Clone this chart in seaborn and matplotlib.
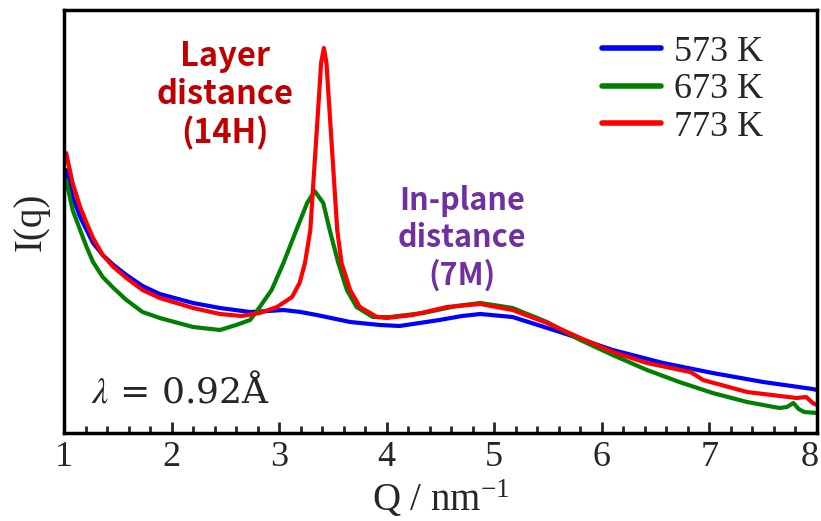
import numpy as np
import pandas as pd
import matplotlib
matplotlib.use("Agg")
import matplotlib.pyplot as plt
import matplotlib.transforms as mtransforms
import seaborn as sns

# ---- data (arbitrary intensity units) ----
q_573 = [1.02, 1.08, 1.15, 1.27, 1.36, 1.46, 1.58, 1.73, 1.89, 2.20, 2.45, 2.73,
         2.90, 3.04, 3.20, 3.35, 3.66, 3.94, 4.12, 4.49, 4.70, 4.87, 5.17, 5.64,
         6.10, 6.57, 7.03, 7.50, 7.96, 8.0]
i_573 = [263, 236, 216, 190, 178, 168, 158, 147, 139, 130, 125, 121,
         122, 123, 121, 118, 111, 108, 107, 113, 117, 119, 116, 100,
         83, 70, 60, 51, 44, 43]

q_673 = [1.02, 1.08, 1.15, 1.21, 1.27, 1.36, 1.46, 1.58, 1.73, 1.89, 2.20, 2.45,
         2.60, 2.73, 2.80, 2.93, 3.04, 3.16, 3.26, 3.33, 3.41, 3.47, 3.55, 3.63,
         3.72, 3.87, 4.03, 4.34, 4.65, 4.87, 5.17, 5.49, 5.80, 6.10, 6.42, 6.72,
         7.03, 7.35, 7.65, 7.72, 7.78, 7.83, 7.88, 8.0]
i_673 = [253, 223, 203, 186, 171, 156, 145, 133, 121, 115, 106, 103,
         108, 113, 123, 143, 170, 203, 230, 242, 230, 203, 170, 143,
         126, 116, 116, 120, 127, 130, 125, 111, 93, 78, 63, 51,
         40, 31, 25, 26, 30, 24, 21, 20]

q_773 = [1.02, 1.08, 1.15, 1.21, 1.27, 1.36, 1.46, 1.58, 1.73, 1.89, 2.20, 2.45,
         2.65, 2.82, 2.98, 3.12, 3.19, 3.24, 3.29, 3.33, 3.37, 3.39, 3.416, 3.44,
         3.46, 3.50, 3.54, 3.58, 3.66, 3.75, 3.91, 4.0, 4.24, 4.56, 4.87, 5.17,
         5.49, 5.80, 6.10, 6.42, 6.82, 6.87, 6.94, 7.35, 7.81, 7.90, 7.96, 8.0]
i_773 = [280, 250, 226, 210, 195, 178, 166, 155, 143, 135, 125, 119,
         117, 120, 126, 136, 150, 170, 203, 270, 336, 370, 385, 370,
         336, 270, 203, 170, 143, 126, 116, 115, 118, 126, 129, 123,
         110, 95, 81, 70, 61, 58, 53, 41, 35, 36, 30, 28]

labels = ["573 K", "673 K", "773 K"]
colors = ["#0000FF", "#008000", "#FF0000"]

frames = []
for lab, q, i in zip(labels, [q_573, q_673, q_773], [i_573, i_673, i_773]):
    frames.append(pd.DataFrame({"Q": q, "I": i, "T": lab}))
df = pd.concat(frames, ignore_index=True)

sns.set_style("ticks")
plt.rcParams["font.family"] = ["Liberation Serif", "DejaVu Serif"]
plt.rcParams["mathtext.fontset"] = "custom"
plt.rcParams["mathtext.rm"] = "Liberation Serif"
plt.rcParams["mathtext.it"] = "Liberation Serif:italic"

fig = plt.figure(figsize=(8.21, 5.21), dpi=100)
ax = fig.add_axes([64 / 821, (521 - 433) / 521, (817 - 64) / 821, (433 - 10) / 521])

sns.lineplot(data=df, x="Q", y="I", hue="T", palette=colors, linewidth=3.0,
             ax=ax, sort=False, estimator=None)

ax.set_xlim(1, 8)
ax.set_ylim(0, 423)
ax.set_xticks(np.arange(1, 9, 1))
ax.set_xticks(np.arange(1, 8.01, 0.2), minor=True)
ax.set_yticks([])
ax.tick_params(axis="x", which="major", direction="in", length=8, width=2,
               labelsize=26, pad=6, top=False)
ax.tick_params(axis="x", which="minor", direction="in", length=5, width=2, top=False)
for s in ax.spines.values():
    s.set_linewidth(2.5)
    s.set_color("black")

# nudge the last tick label ("8") so it stays inside the figure
fig.canvas.draw()
last = ax.get_xticklabels()[-1]
last.set_transform(last.get_transform() +
                   mtransforms.ScaledTranslation(-7 / 100, 0, fig.dpi_scale_trans))

ax.set_xlabel(r"Q / nm$^{\mathregular{-1}}$", fontsize=28, labelpad=3)
ax.set_ylabel("I(q)", fontsize=28, labelpad=10)

leg = ax.legend(loc="upper right", bbox_to_anchor=(0.962, 1.0), frameon=False,
                fontsize=26, handlelength=1.65, handletextpad=0.35,
                labelspacing=0.12, borderaxespad=0.3)
for h in leg.get_lines():
    h.set_linewidth(4)

bold_font = ["Noto Sans CJK JP", "DejaVu Sans"]
ax.text(2.5, 338, "Layer\ndistance\n(14H)", color="#C00000", fontsize=23.5,
        fontweight="bold", ha="center", va="center", linespacing=1.2,
        family=bold_font)
ax.text(4.7, 195, "In-plane\ndistance\n(7M)", color="#7030A0", fontsize=22,
        fontweight="bold", ha="center", va="center", linespacing=1.2,
        family=bold_font)
ax.text(1.25, 42, r"$\lambda$ = 0.92Å", fontsize=26, ha="left", va="center",
        math_fontfamily="stix", family=["DejaVu Serif"])

fig.savefig("out.png", dpi=100)
